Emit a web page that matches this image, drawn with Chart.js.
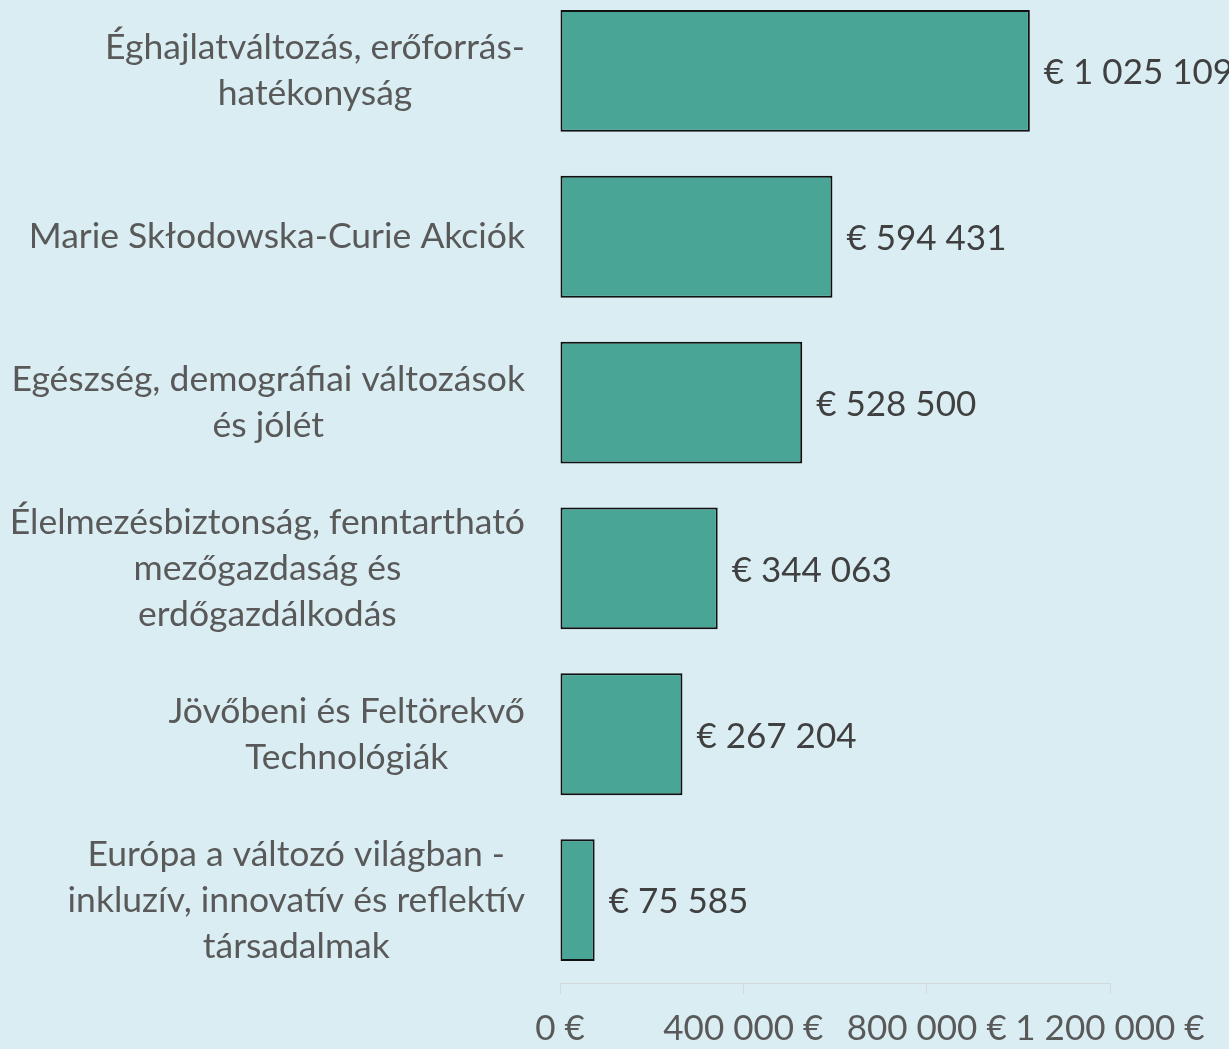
<!DOCTYPE html>
<html>
<head>
<meta charset="utf-8">
<script src="https://cdn.jsdelivr.net/npm/chart.js@4/dist/chart.umd.min.js"></script>
<style>
    html, body { margin: 0; padding: 0; background: #daedf3; overflow: hidden; }
    #wrap { position: absolute; left: 0; top: -12px; width: 1229px; height: 1061px; }
</style>
</head>
<body>
<div id="wrap"><canvas id="grafico"></canvas></div>
<script>
// Kategóriák (soronként tördelve, ahogy az eredetin)
const kategoriak = [
    ['Éghajlatváltozás, erőforrás-', 'hatékonyság'],
    ['Marie Skłodowska-Curie Akciók'],
    ['Egészség, demográfiai változások', 'és jólét'],
    ['Élelmezésbiztonság, fenntartható', 'mezőgazdaság és', 'erdőgazdálkodás'],
    ['Jövőbeni és Feltörekvő', 'Technológiák'],
    ['Európa a változó világban -', 'inkluzív, innovatív és reflektív', 'társadalmak']
];
const ertekek = [1025109, 594431, 528500, 344063, 267204, 75585];
const tengelyMax = 1200000;
const tengelyLepes = 400000;

const betu = 'Lato, "Open Sans", sans-serif';

function formaz(n) {
    return String(n).replace(/\B(?=(\d{3})+(?!\d))/g, ' ');
}

// Kategória feliratok: blokk jobbra igazítva, sorok középre
const kategoriaFeliratok = {
    id: 'kategoriaFeliratok',
    afterDraw(chart) {
        const ctx = chart.ctx;
        const y = chart.scales.y;
        const jobb = chart.chartArea.left - 35;
        const sorMagassag = 46;
        ctx.save();
        ctx.font = '35.5px ' + betu;
        ctx.fillStyle = '#595959';
        ctx.textAlign = 'center';
        ctx.textBaseline = 'middle';
        kategoriak.forEach((sorok, i) => {
            const maxW = Math.max(...sorok.map(s => ctx.measureText(s).width));
            const kx = jobb - maxW / 2;
            const ky = y.getPixelForValue(i);
            const kezd = ky - (sorok.length - 1) * sorMagassag / 2;
            sorok.forEach((s, j) => ctx.fillText(s, kx, kezd + j * sorMagassag));
        });
        ctx.restore();
    }
};

// Értékfeliratok a sávok végén
const ertekFeliratok = {
    id: 'ertekFeliratok',
    afterDatasetsDraw(chart) {
        const ctx = chart.ctx;
        const meta = chart.getDatasetMeta(0);
        ctx.save();
        ctx.font = '35px ' + betu;
        ctx.fillStyle = '#404040';
        ctx.textAlign = 'left';
        ctx.textBaseline = 'middle';
        meta.data.forEach((bar, i) => {
            let x = bar.x + 14;
            ctx.fillText('€ ' + formaz(ertekek[i]), x, bar.y + 2);
        });
        ctx.restore();
    }
};

const ctx = document.getElementById('grafico').getContext('2d');
new Chart(ctx, {
    type: 'bar',
    data: {
        labels: kategoriak,
        datasets: [{
            data: ertekek,
            backgroundColor: '#49a595',
            borderColor: '#111111',
            borderWidth: 2,
            borderSkipped: false,
            barPercentage: 0.735,
            categoryPercentage: 1
        }]
    },
    options: {
        indexAxis: 'y',
        responsive: true,
        maintainAspectRatio: false,
        animation: false,
        layout: { padding: { left: 0, right: 119, top: 0, bottom: 0 } },
        plugins: {
            legend: { display: false },
            tooltip: { enabled: false }
        },
        scales: {
            x: {
                min: 0,
                max: tengelyMax,
                afterFit(scale) { scale.height = 66; },
                ticks: {
                    stepSize: tengelyLepes,
                    autoSkip: false,
                    color: '#595959',
                    font: { family: betu, size: 35 },
                    padding: 14,
                    maxRotation: 0,
                    callback: v => formaz(v) + ' €'
                },
                grid: {
                    drawOnChartArea: false,
                    drawTicks: true,
                    tickLength: 11,
                    color: '#d4d9dc'
                },
                border: { display: true, color: '#d4d9dc', width: 1 }
            },
            y: {
                afterFit(scale) { scale.width = 560; },
                ticks: { display: false },
                grid: { display: false },
                border: { display: false }
            }
        }
    },
    plugins: [kategoriaFeliratok, ertekFeliratok]
});
</script>
</body>
</html>
